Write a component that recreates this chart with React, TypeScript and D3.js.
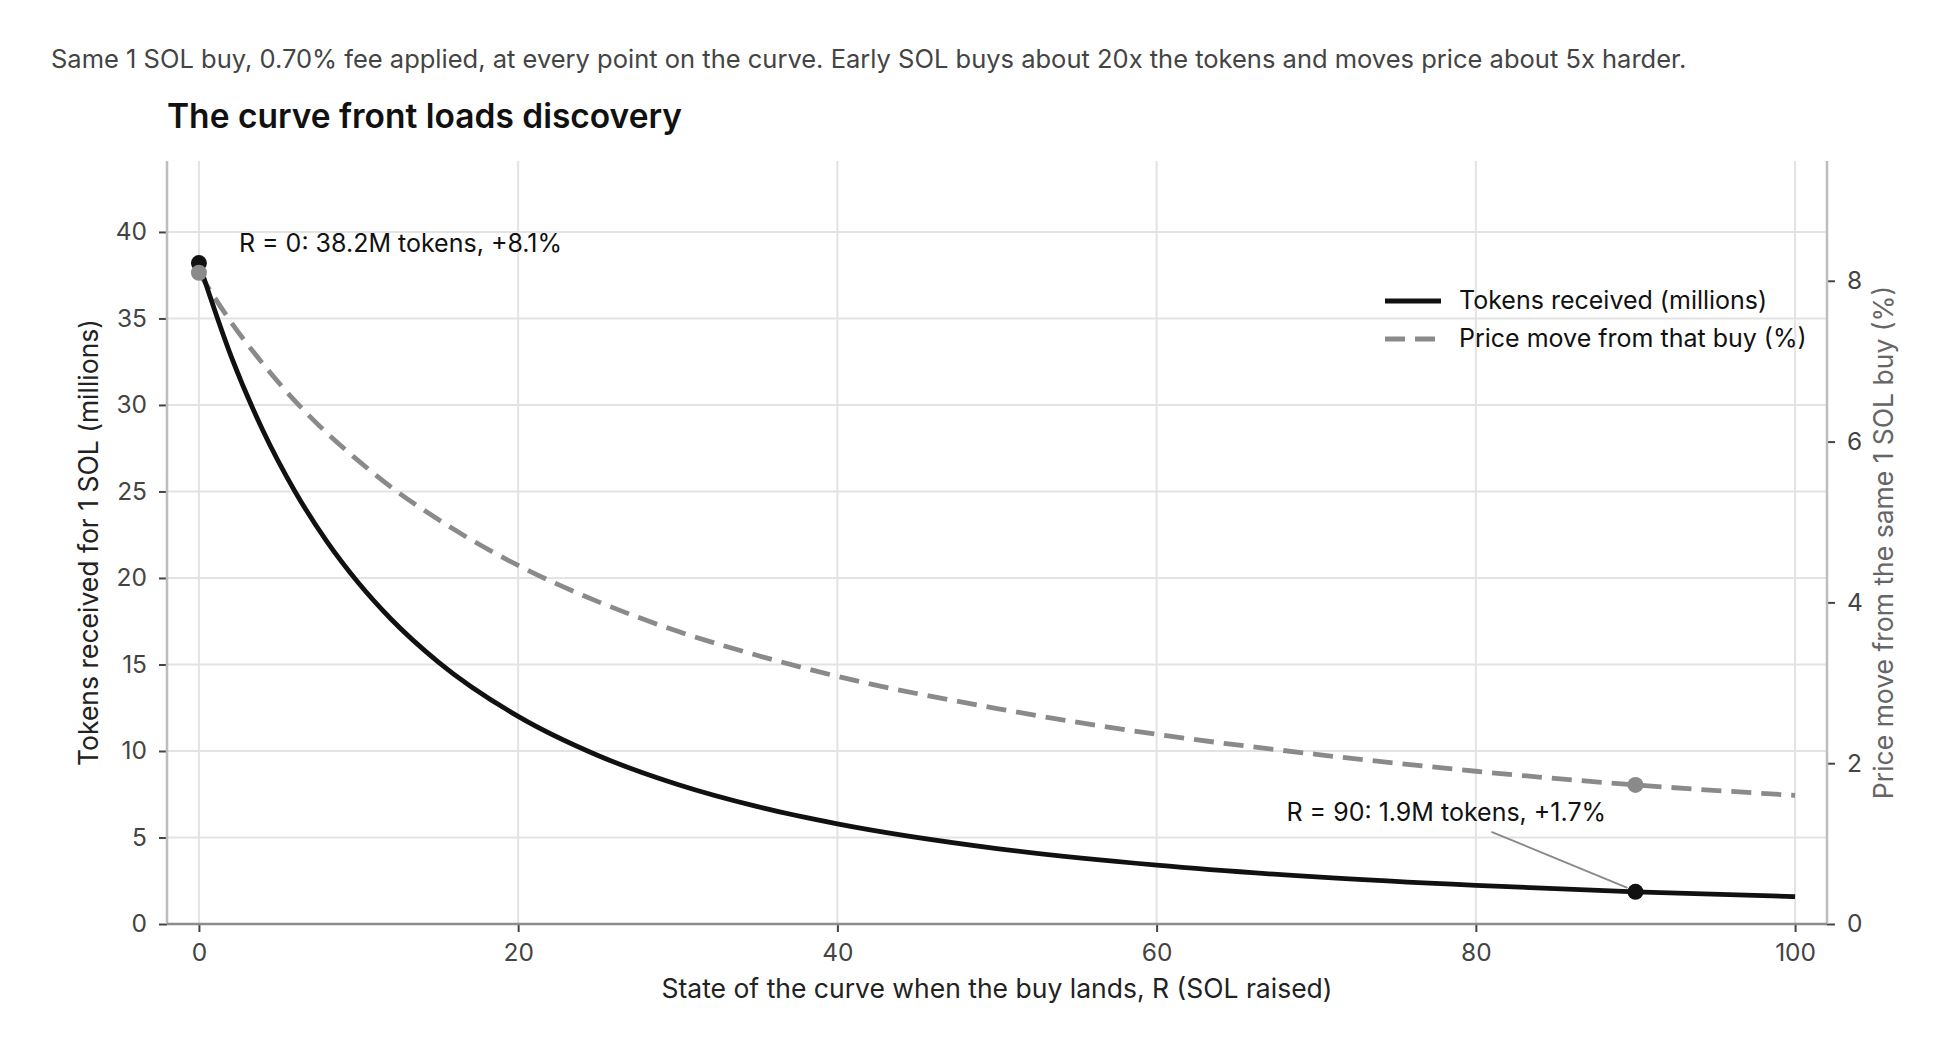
import React, { useEffect, useRef } from "react";
import * as d3 from "d3";

// SOL already raised when the 1 SOL buy lands (R)
const raised = [0, 2, 4, 6, 8, 10, 12, 15, 20, 25, 30, 35, 40, 50, 60, 70, 80, 90, 100];
// tokens received for that buy, millions
const tokensMillions = [38.2, 32.85, 28.54, 25.03, 22.13, 19.71, 17.66, 15.14, 12.0, 9.74, 8.06, 6.78, 5.79, 4.36, 3.4, 2.72, 2.23, 1.86, 1.58];
// price move caused by the buy, %
const priceMovePct = [8.1, 7.49, 6.97, 6.51, 6.11, 5.76, 5.44, 5.03, 4.46, 4.01, 3.64, 3.34, 3.08, 2.68, 2.36, 2.11, 1.9, 1.73, 1.6];

const xTicks = [0, 20, 40, 60, 80, 100];
const leftTicks = [0, 5, 10, 15, 20, 25, 30, 35, 40];
const rightTicks = [0, 2, 4, 6, 8];
const calloutRaised = [0, 90];

const W = 1949;
const H = 1053;
const FONT = "Inter, 'Noto Sans', sans-serif";

export default function App() {
    const svgRef = useRef<SVGSVGElement>(null);

    useEffect(() => {
        if (!svgRef.current) return;
        document.body.style.margin = "0";

        const svg = d3.select(svgRef.current);
        svg.selectAll("*").remove();

        const left = 167, right = 1827, top = 161, bottom = 924;

        const x = d3.scaleLinear().domain([-2, 102]).range([left, right]);
        const yL = d3.scaleLinear().domain([0, 44.1]).range([bottom, top]);
        const yR = d3.scaleLinear().domain([0, 9.49]).range([bottom, top]);

        const data = raised.map((r, i) => ({ r, tokens: tokensMillions[i], pct: priceMovePct[i] }));

        // subtitle + title
        svg.append("text")
            .attr("x", 51).attr("y", 68)
            .style("font-family", FONT).style("font-size", "25.5px").style("fill", "#444")
            .text("Same 1 SOL buy, 0.70% fee applied, at every point on the curve. Early SOL buys about 20x the tokens and moves price about 5x harder.");
        svg.append("text")
            .attr("x", left).attr("y", 128)
            .style("font-family", FONT).style("font-size", "33.5px").style("font-weight", "600").style("fill", "#111")
            .text("The curve front loads discovery");

        // grid
        const grid = svg.append("g").attr("stroke", "#e3e3e3").attr("stroke-width", 2);
        grid.selectAll(".gx").data(xTicks).enter().append("line")
            .attr("x1", d => x(d)).attr("x2", d => x(d)).attr("y1", top).attr("y2", bottom);
        grid.selectAll(".gy").data(leftTicks).enter().append("line")
            .attr("x1", left).attr("x2", right).attr("y1", d => yL(d)).attr("y2", d => yL(d));

        // axes
        const styleAxis = (g: d3.Selection<SVGGElement, unknown, null, undefined>) => {
            g.select(".domain").remove();
            g.selectAll(".tick line").attr("stroke", "#444").attr("stroke-width", 2);
            g.selectAll(".tick text")
                .style("font-family", FONT).style("font-size", "24.5px").style("fill", "#444");
        };
        svg.append("g").attr("transform", `translate(${left},0)`)
            .call(d3.axisLeft(yL).tickValues(leftTicks).tickSize(8).tickPadding(12))
            .call(styleAxis);
        svg.append("g").attr("transform", `translate(${right},0)`)
            .call(d3.axisRight(yR).tickValues(rightTicks).tickSize(8).tickPadding(12))
            .call(styleAxis);
        svg.append("g").attr("transform", `translate(0,${bottom})`)
            .call(d3.axisBottom(x).tickValues(xTicks).tickSize(8).tickPadding(12))
            .call(styleAxis);

        // spines
        svg.append("line").attr("x1", left).attr("x2", left).attr("y1", top).attr("y2", bottom)
            .attr("stroke", "#bdbdbd").attr("stroke-width", 2.5);
        svg.append("line").attr("x1", right).attr("x2", right).attr("y1", top).attr("y2", bottom)
            .attr("stroke", "#bdbdbd").attr("stroke-width", 2.5);
        svg.append("line").attr("x1", left).attr("x2", right).attr("y1", bottom).attr("y2", bottom)
            .attr("stroke", "#8c8c8c").attr("stroke-width", 2.5);

        // axis labels
        svg.append("text")
            .attr("x", (left + right) / 2).attr("y", 998).attr("text-anchor", "middle")
            .style("font-family", FONT).style("font-size", "26.5px").style("fill", "#222")
            .text("State of the curve when the buy lands, R (SOL raised)");
        svg.append("text")
            .attr("transform", `translate(98,${(top + bottom) / 2}) rotate(-90)`).attr("text-anchor", "middle")
            .style("font-family", FONT).style("font-size", "26.5px").style("fill", "#222")
            .text("Tokens received for 1 SOL (millions)");
        svg.append("text")
            .attr("transform", `translate(1893,${(top + bottom) / 2}) rotate(-90)`).attr("text-anchor", "middle")
            .style("font-family", FONT).style("font-size", "26.5px").style("fill", "#666")
            .text("Price move from the same 1 SOL buy (%)");

        // lines
        const tokenLine = d3.line<typeof data[number]>()
            .x(d => x(d.r)).y(d => yL(d.tokens)).curve(d3.curveMonotoneX);
        const pctLine = d3.line<typeof data[number]>()
            .x(d => x(d.r)).y(d => yR(d.pct)).curve(d3.curveMonotoneX);

        svg.append("path").datum(data).attr("d", pctLine)
            .attr("fill", "none").attr("stroke", "#8a8a8a").attr("stroke-width", 4.8)
            .attr("stroke-dasharray", "20 10");
        svg.append("path").datum(data).attr("d", tokenLine)
            .attr("fill", "none").attr("stroke", "#111").attr("stroke-width", 4.8);

        // callouts
        const callouts = data.filter(d => calloutRaised.includes(d.r));
        const c90 = callouts[1];
        svg.append("line")
            .attr("x1", x(c90.r) - 144).attr("y1", yL(c90.tokens) - 60)
            .attr("x2", x(c90.r) - 8).attr("y2", yL(c90.tokens) - 4)
            .attr("stroke", "#888").attr("stroke-width", 1.8);

        svg.selectAll(".dotT").data(callouts).enter().append("circle")
            .attr("cx", d => x(d.r)).attr("cy", d => yL(d.tokens)).attr("r", 8).attr("fill", "#111");
        svg.selectAll(".dotP").data(callouts).enter().append("circle")
            .attr("cx", d => x(d.r)).attr("cy", d => yR(d.pct)).attr("r", 8).attr("fill", "#8a8a8a");

        const labelOffsets = [{ dx: 40, dy: -11 }, { dx: -349, dy: -71 }];
        svg.selectAll(".callout").data(callouts).enter().append("text")
            .attr("x", (d, i) => x(d.r) + labelOffsets[i].dx)
            .attr("y", (d, i) => yL(d.tokens) + labelOffsets[i].dy)
            .style("font-family", FONT).style("font-size", "25px").style("fill", "#111")
            .text(d => `R = ${d.r}: ${d.tokens.toFixed(1)}M tokens, +${d.pct.toFixed(1)}%`);

        // legend
        const legend = svg.append("g").attr("transform", "translate(1385,301)");
        const items = [
            { label: "Tokens received (millions)", color: "#111", dash: null },
            { label: "Price move from that buy (%)", color: "#8a8a8a", dash: "20 10" },
        ];
        items.forEach((it, i) => {
            const g = legend.append("g").attr("transform", `translate(0,${i * 38})`);
            g.append("line").attr("x1", 0).attr("x2", 56).attr("y1", 0).attr("y2", 0)
                .attr("stroke", it.color).attr("stroke-width", 4.8)
                .attr("stroke-dasharray", it.dash);
            g.append("text").attr("x", 74).attr("y", 8)
                .style("font-family", FONT).style("font-size", "25px").style("fill", "#111")
                .text(it.label);
        });
    }, []);

    return <svg ref={svgRef} width={W} height={H} style={{ display: "block", background: "#fff" }} />;
}
